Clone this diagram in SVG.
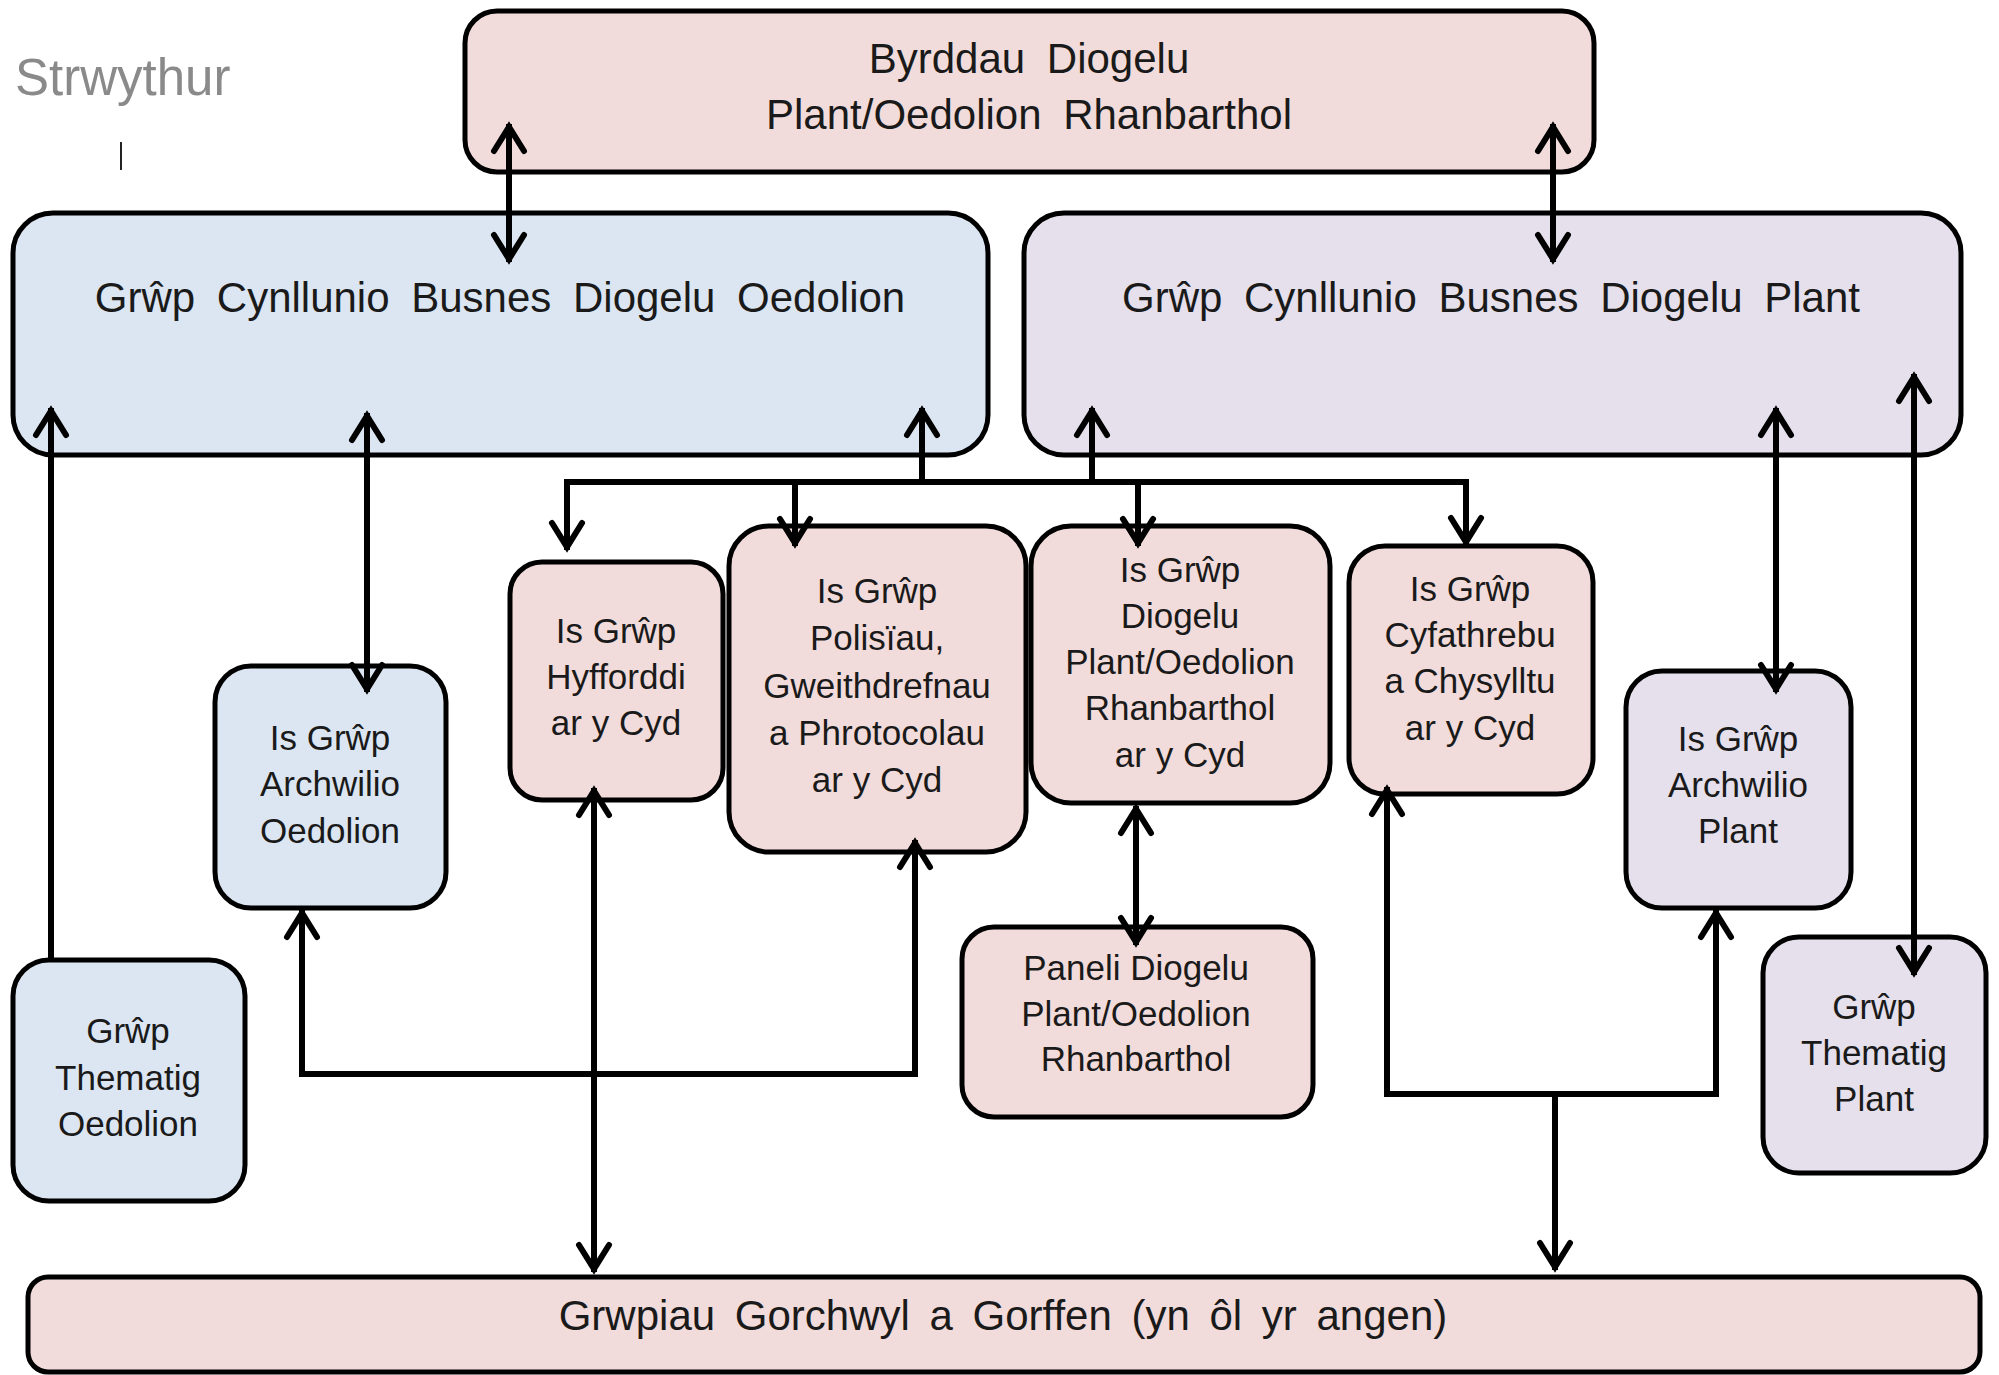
<svg xmlns="http://www.w3.org/2000/svg" width="1999" height="1375" viewBox="0 0 1999 1375">
<style>
.box{stroke:#000;stroke-width:5}
.pink{fill:#f2dcdb}
.blue{fill:#dce6f2}
.purple{fill:#e5e0ec}
.t{font-family:"Liberation Sans",Arial,sans-serif;font-size:35px;fill:#1a1a1a;text-anchor:middle}
.big{font-family:"Liberation Sans",Arial,sans-serif;font-size:42px;fill:#1a1a1a;text-anchor:middle;word-spacing:10px}
.c{fill:none;stroke:#000;stroke-width:6;marker-end:url(#ah)}
.d{marker-start:url(#ah)}
.n{fill:none;stroke:#000;stroke-width:6}
</style>
<defs>
<marker id="ah" viewBox="-34 -20 44 40" refX="0" refY="0" markerWidth="44" markerHeight="40" markerUnits="userSpaceOnUse" orient="auto-start-reverse">
<path d="M-27,-15 L-3,0 L-27,15" fill="none" stroke="#000" stroke-width="6" stroke-linecap="round" stroke-linejoin="miter"/>
</marker>
</defs>
<text x="15" y="95" font-family="Liberation Sans,Arial,sans-serif" font-size="51" fill="#8a8a8a">Strwythur</text>
<line x1="121" y1="142" x2="121" y2="170" stroke="#222" stroke-width="2"/>

<g id="top"><rect class="box pink" x="465" y="11" width="1129" height="161" rx="32"/>
<text class="big" x="1029" y="73">Byrddau Diogelu</text><text class="big" x="1029" y="129">Plant/Oedolion Rhanbarthol</text></g>
<g id="gcb-oedolion"><rect class="box blue" x="13" y="213" width="975" height="242" rx="40"/>
<text class="big" x="500" y="312">Grŵp Cynllunio Busnes Diogelu Oedolion</text></g>
<g id="gcb-plant"><rect class="box purple" x="1024" y="213" width="937" height="242" rx="40"/>
<text class="big" x="1491" y="312">Grŵp Cynllunio Busnes Diogelu Plant</text></g>

<g id="hyfforddi"><rect class="box pink" x="510" y="562" width="213" height="238" rx="32"/>
<text class="t" x="616" y="643">Is Grŵp</text><text class="t" x="616" y="689">Hyfforddi</text><text class="t" x="616" y="735">ar y Cyd</text></g>
<g id="polisiau"><rect class="box pink" x="729" y="526" width="297" height="326" rx="40"/>
<text class="t" x="877" y="603">Is Grŵp</text><text class="t" x="877" y="650">Polisïau,</text><text class="t" x="877" y="698">Gweithdrefnau</text><text class="t" x="877" y="745">a Phrotocolau</text><text class="t" x="877" y="792">ar y Cyd</text></g>
<g id="diogelu"><rect class="box pink" x="1031" y="526" width="299" height="277" rx="40"/>
<text class="t" x="1180" y="582">Is Grŵp</text><text class="t" x="1180" y="628">Diogelu</text><text class="t" x="1180" y="674">Plant/Oedolion</text><text class="t" x="1180" y="720">Rhanbarthol</text><text class="t" x="1180" y="767">ar y Cyd</text></g>
<g id="cyfathrebu"><rect class="box pink" x="1349" y="546" width="244" height="248" rx="36"/>
<text class="t" x="1470" y="601">Is Grŵp</text><text class="t" x="1470" y="647">Cyfathrebu</text><text class="t" x="1470" y="693">a Chysylltu</text><text class="t" x="1470" y="740">ar y Cyd</text></g>
<g id="archwilio-oedolion"><rect class="box blue" x="215" y="666" width="231" height="242" rx="36"/>
<text class="t" x="330" y="750">Is Grŵp</text><text class="t" x="330" y="796">Archwilio</text><text class="t" x="330" y="843">Oedolion</text></g>
<g id="archwilio-plant"><rect class="box purple" x="1626" y="671" width="225" height="237" rx="36"/>
<text class="t" x="1738" y="751">Is Grŵp</text><text class="t" x="1738" y="797">Archwilio</text><text class="t" x="1738" y="843">Plant</text></g>
<g id="thematig-oedolion"><rect class="box blue" x="13" y="960" width="232" height="241" rx="36"/>
<text class="t" x="128" y="1043">Grŵp</text><text class="t" x="128" y="1090">Thematig</text><text class="t" x="128" y="1136">Oedolion</text></g>
<g id="thematig-plant"><rect class="box purple" x="1763" y="937" width="223" height="236" rx="36"/>
<text class="t" x="1874" y="1019">Grŵp</text><text class="t" x="1874" y="1065">Thematig</text><text class="t" x="1874" y="1111">Plant</text></g>
<g id="paneli"><rect class="box pink" x="962" y="927" width="351" height="190" rx="32"/>
<text class="t" x="1136" y="980">Paneli Diogelu</text><text class="t" x="1136" y="1026">Plant/Oedolion</text><text class="t" x="1136" y="1071">Rhanbarthol</text></g>
<g id="gorchwyl"><rect class="box pink" x="28" y="1277" width="1952" height="95" rx="20"/>
<text class="big" x="1003" y="1330" style="word-spacing:8px">Grwpiau Gorchwyl a Gorffen (yn ôl yr angen)</text></g>

<g id="connectors">
<path class="c d" d="M509,124 V262"/>
<path class="c d" d="M1553,124 V262"/>
<path class="c" d="M51,960 V408"/>
<path class="c d" d="M367,413 V692"/>
<path class="c d" d="M567,550 V482 H1466 V545"/>
<path class="c" d="M795,482 V546"/>
<path class="c" d="M1138,482 V546"/>
<path class="c" d="M922,482 V408"/>
<path class="c" d="M1092,482 V408"/>
<path class="c d" d="M594,788 V1272"/>
<path class="c d" d="M302,910 V1074 H915 V840"/>
<path class="c d" d="M1136,806 V945"/>
<path class="c d" d="M1387,787 V1094 H1716 V910"/>
<path class="c" d="M1555,1094 V1270"/>
<path class="c d" d="M1776,408 V692"/>
<path class="c d" d="M1914,374 V975"/>
</g>
</svg>
